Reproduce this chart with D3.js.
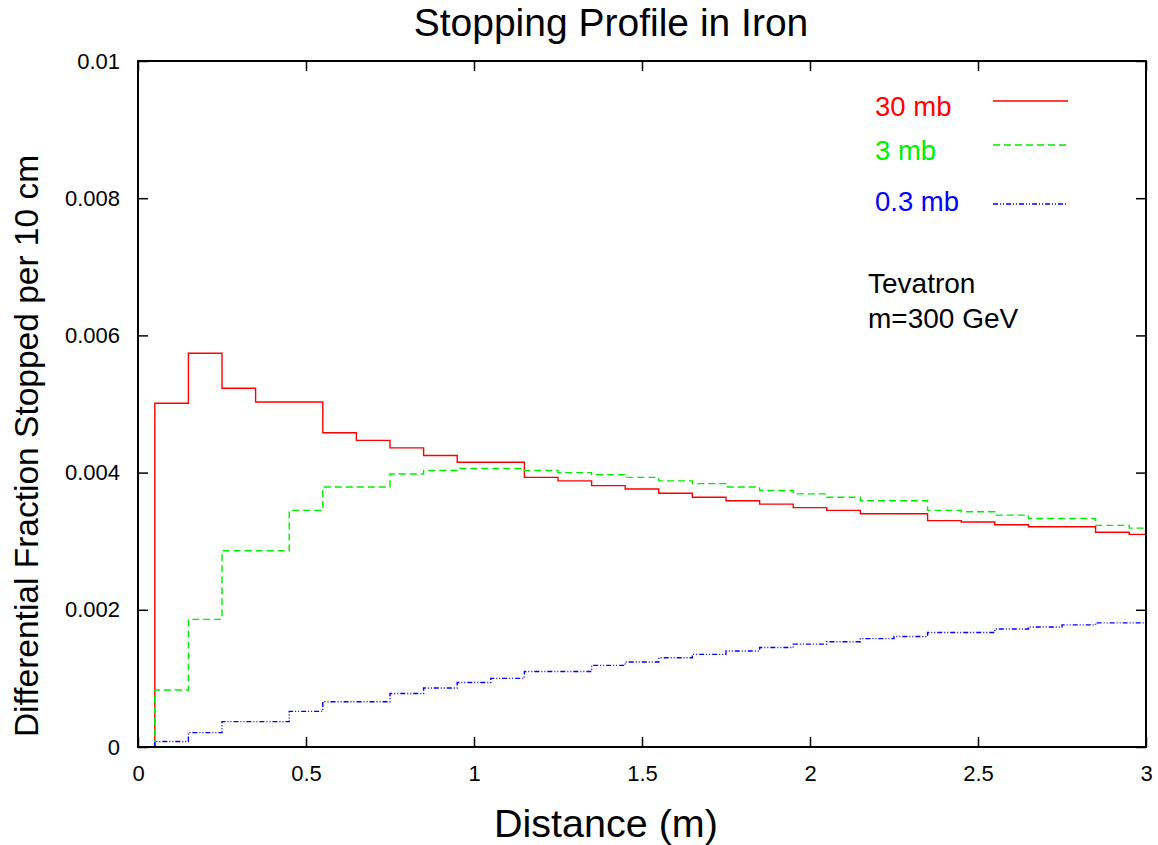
<!DOCTYPE html>
<html>
<head>
<meta charset="utf-8">
<script src="https://cdn.jsdelivr.net/npm/d3@7"></script>
<style>
  html, body { margin: 0; padding: 0; background: #fff; }
  svg { display: block; font-family: "Liberation Sans", Arial, Helvetica, sans-serif; }
</style>
</head>
<body>
<script>
// ---- Data (units: fraction per 10 cm) ----
const binCenters = [0.1,0.2,0.3,0.4,0.5,0.6,0.7,0.8,0.9,1.0,1.1,1.2,1.3,1.4,1.5,1.6,1.7,1.8,1.9,2.0,2.1,2.2,2.3,2.4,2.5,2.6,2.7,2.8,2.9,3.0];
const binWidth = 0.1;
const series30mb = [0.00501,0.00574,0.00523,0.00503,0.00503,0.00458,0.00447,0.00436,0.00425,0.00415,0.00415,0.00393,0.00388,0.00381,0.00376,0.00370,0.00364,0.00359,0.00354,0.00349,0.00345,0.00340,0.00340,0.00330,0.00328,0.00324,0.00321,0.00321,0.00313,0.00310];
const series3mb = [0.00083,0.00186,0.00286,0.00286,0.00345,0.00379,0.00379,0.00398,0.00403,0.00406,0.00406,0.00403,0.00400,0.00397,0.00393,0.00388,0.00384,0.00379,0.00374,0.00369,0.00364,0.00359,0.00359,0.00345,0.00343,0.00338,0.00333,0.00333,0.00323,0.00319];
const series03mb = [0.00008,0.00021,0.00037,0.00037,0.00052,0.00066,0.00066,0.00078,0.00086,0.00094,0.00100,0.00110,0.00110,0.00119,0.00124,0.00130,0.00135,0.00140,0.00145,0.00150,0.001535,0.00158,0.00161,0.00167,0.00167,0.00172,0.00175,0.00178,0.00181,0.00181];
const seriesNames = ["30 mb", "3 mb", "0.3 mb"];
const xTicks = [0, 0.5, 1, 1.5, 2, 2.5, 3];
const xTickLabels = ["0", "0.5", "1", "1.5", "2", "2.5", "3"];
const yTicks = [0, 0.002, 0.004, 0.006, 0.008, 0.01];
const yTickLabels = ["0", "0.002", "0.004", "0.006", "0.008", "0.01"];
const xDomain = [0, 3];
const yDomain = [0, 0.01];

// ---- Layout ----
const W = 1158, H = 845;
const M = { left: 138, right: 12, top: 61, bottom: 98 };
const svg = d3.select("body").append("svg").attr("width", W).attr("height", H);

const x = d3.scaleLinear().domain(xDomain).range([M.left, W - M.right]);
const y = d3.scaleLinear().domain(yDomain).range([H - M.bottom, M.top]);

const styles = [
  { color: "#ff0000", dash: null, width: 1.4 },
  { color: "#00ee00", dash: "7,4", width: 1.4 },
  { color: "#0000ff", dash: "5,2,1,2,1,2", width: 1.4 }
];
const allSeries = [series30mb, series3mb, series03mb];

svg.append("defs").append("clipPath").attr("id", "plotclip")
  .append("rect").attr("x", x(0)).attr("y", y(0.01)).attr("width", x(3) - x(0)).attr("height", y(0) - y(0.01));

const line = d3.line().x(d => x(d[0])).y(d => y(d[1])).curve(d3.curveStepAfter);

const gData = svg.append("g").attr("clip-path", "url(#plotclip)");
allSeries.forEach((vals, i) => {
  const pts = [[binCenters[0] - binWidth / 2, 0]];
  vals.forEach((v, k) => pts.push([binCenters[k] - binWidth / 2, v]));
  pts.push([binCenters[binCenters.length - 1] + binWidth / 2, vals[vals.length - 1]]);
  gData.append("path").attr("d", line(pts))
    .attr("fill", "none").attr("stroke", styles[i].color)
    .attr("stroke-width", styles[i].width)
    .attr("stroke-dasharray", styles[i].dash);
});

// ---- Frame and ticks (inward on all sides) ----
const tickLen = 10;
const bottomAxis = d3.axisBottom(x).tickValues(xTicks).tickSizeInner(-tickLen).tickSizeOuter(0).tickFormat((d, i) => xTickLabels[i]).tickPadding(tickLen + 13);
const topAxis = d3.axisTop(x).tickValues(xTicks).tickSizeInner(-tickLen).tickSizeOuter(0).tickFormat("");
const leftAxis = d3.axisLeft(y).tickValues(yTicks).tickSizeInner(-tickLen).tickSizeOuter(0).tickFormat((d, i) => yTickLabels[i]).tickPadding(tickLen + 8);
const rightAxis = d3.axisRight(y).tickValues(yTicks).tickSizeInner(-tickLen).tickSizeOuter(0).tickFormat("");

function styleAxis(g) {
  g.select(".domain").remove();
  g.selectAll(".tick line").attr("stroke", "#000").attr("stroke-width", 1.5);
  g.selectAll(".tick text").attr("fill", "#000").style("font-size", "22px").style("font-family", "'Liberation Sans', Arial, sans-serif");
}
svg.append("g").attr("transform", `translate(0,${y(0)})`).call(bottomAxis).call(styleAxis)
  .selectAll(".tick text").attr("dy", "0.5em");
svg.append("g").attr("transform", `translate(0,${y(0.01)})`).call(topAxis).call(styleAxis);
svg.append("g").attr("transform", `translate(${x(0)},0)`).call(leftAxis).call(styleAxis);
svg.append("g").attr("transform", `translate(${x(3)},0)`).call(rightAxis).call(styleAxis);

svg.append("rect").attr("x", x(0)).attr("y", y(0.01)).attr("width", x(3) - x(0)).attr("height", y(0) - y(0.01))
  .attr("fill", "none").attr("stroke", "#000").attr("stroke-width", 2);

// ---- Titles ----
svg.append("text").attr("x", 611).attr("y", 36).attr("text-anchor", "middle")
  .style("font-size", "39px").attr("fill", "#000").text("Stopping Profile in Iron");
svg.append("text").attr("x", 606).attr("y", 837).attr("text-anchor", "middle")
  .style("font-size", "39.5px").attr("fill", "#000").text("Distance (m)");
svg.append("text").attr("transform", "translate(38,446) rotate(-90)").attr("text-anchor", "middle")
  .style("font-size", "33.5px").attr("fill", "#000").text("Differential Fraction Stopped per 10 cm");

// ---- Legend ----
const legendBaselines = [116, 160, 211];
const legendLineY = [101, 145, 204];
seriesNames.forEach((name, i) => {
  svg.append("text").attr("x", 875).attr("y", legendBaselines[i])
    .style("font-size", "27.5px").attr("fill", styles[i].color).text(name);
  svg.append("line").attr("x1", 993).attr("x2", 1068).attr("y1", legendLineY[i]).attr("y2", legendLineY[i])
    .attr("stroke", styles[i].color).attr("stroke-width", styles[i].width)
    .attr("stroke-dasharray", styles[i].dash);
});
svg.append("text").attr("x", 868).attr("y", 293).style("font-size", "28px").attr("fill", "#000").text("Tevatron");
svg.append("text").attr("x", 868).attr("y", 328).style("font-size", "28px").attr("fill", "#000").text("m=300 GeV");
</script>
</body>
</html>
